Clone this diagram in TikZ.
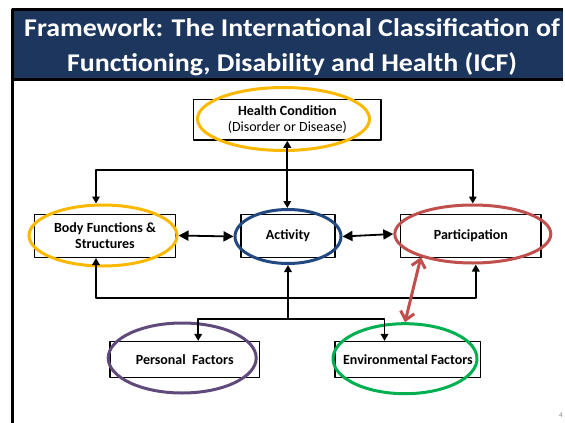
\documentclass[tikz,border=0pt]{standalone}
\usepackage{fontspec}
\setmainfont{Carlito}
\usetikzlibrary{arrows.meta,shapes.geometric}
\definecolor{navy}{RGB}{29,54,94}
\definecolor{ringgold}{RGB}{250,184,0}
\definecolor{ringblue}{RGB}{33,72,128}
\definecolor{ringred}{RGB}{192,80,77}
\definecolor{ringpurple}{RGB}{96,74,123}
\definecolor{ringgreen}{RGB}{0,176,80}
\newcommand{\wide}[1]{\scalebox{1.095}[1]{#1}}
\begin{document}
\begin{tikzpicture}[x=1pt, y=-1pt, line join=round, >={Triangle[length=7pt,width=7.5pt]}, font=\fontsize{14}{16.5}\selectfont]
	\tikzset{box/.style={draw, line width=1.4pt, inner sep=0pt, align=center, font=\fontsize{14}{16.5}\selectfont\bfseries},
		ring/.style={draw=#1, ellipse, line width=3pt, inner sep=0pt},
		link/.style={line width=1.8pt},
		bigtip/.style={{Triangle[length=10pt,width=10pt]}-{Triangle[length=10pt,width=10pt]}}}
	\useasboundingbox (0,0) rectangle (565,423);
	% slide frame and title band
	\fill[navy] (13,10) rectangle (563,78);
	\draw[line width=3pt] (12.5,423) -- (12.5,9.5) -- (563,9.5);
	\draw[line width=2.5pt] (11,79.5) -- (563,79.5);
	\node[anchor=base, text=white, font=\fontsize{25.5}{30}\selectfont\bfseries] (title1) at (292,36) {\wide{Framework: The International Classification of}};
	\node[anchor=base, text=white, font=\fontsize{25.5}{30}\selectfont\bfseries] (title2) at (292,71) {\wide{Functioning, Disability and Health (ICF)}};
	% boxes
	\node[box, minimum width=187.5pt, minimum height=40.7pt] (health) at (287.3,119.7) {Health Condition\\\mdseries(Disorder or Disease)};
	\node[box, minimum width=141.4pt, minimum height=43pt] (body) at (105,235.8) {Body Functions \&\\Structures};
	\node[box, minimum width=94pt, minimum height=43pt] (activity) at (288,235.8) {Activity};
	\node[box, minimum width=140.3pt, minimum height=43pt] (partic) at (470.9,235.8) {Participation};
	\node[box, minimum width=149.3pt, minimum height=36pt] (personal) at (184.7,359.6) {Personal\ \ Factors};
	\node[box, minimum width=145.7pt, minimum height=36pt] (environ) at (407.9,359.6) {Environmental Factors};
	% rings
	\node[ring=ringgold, minimum width=172pt, minimum height=63pt] (healthring) at (283.5,119) {};
	\node[ring=ringgold, minimum width=148pt, minimum height=61pt] (bodyring) at (103,235.5) {};
	\node[ring=ringblue, minimum width=106pt, minimum height=54pt] (actring) at (288,236.5) {};
	\node[ring=ringred, minimum width=156pt, minimum height=58pt] (partring) at (472.8,234) {};
	\node[ring=ringpurple, minimum width=148pt, minimum height=70pt] (persring) at (182.2,358) {};
	\node[ring=ringgreen, minimum width=144pt, minimum height=70pt] (envring) at (405,358.7) {};
	% connectors
	\coordinate (hub) at (287.3,170);
	\coordinate (loop) at (288,298);
	\coordinate (split) at (288,319);
	\draw[link, <->] (health.south) -- (health.south |- actring.north);
	\draw[link, ->] (hub) -| ([xshift=-7pt]bodyring.north);
	\draw[link, ->] (hub) -| (partring.north);
	\draw[link, bigtip] (bodyring.east) -- (actring.west);
	\draw[link, bigtip] (actring.east) -- (partring.west);
	\draw[link, <->] ([xshift=-9pt]body.south) |- (loop) -| ([xshift=3pt]partring.south);
	\draw[link, ->] (split) -- (split |- actring.south);
	\draw[link, ->] (split) -| ([xshift=13.5pt]personal.north);
	\draw[link, ->] (split) -| ([xshift=-23.4pt]environ.north);
	\draw[ringred, line width=3pt, line cap=round, {Straight Barb[length=8pt,width=14pt]}-{Straight Barb[length=8pt,width=14pt]}] (partring.204) -- (envring.north);
	\node[text=gray, font=\fontsize{7}{8}\selectfont] (pageno) at (561,415) {4};
\end{tikzpicture}
\end{document}
